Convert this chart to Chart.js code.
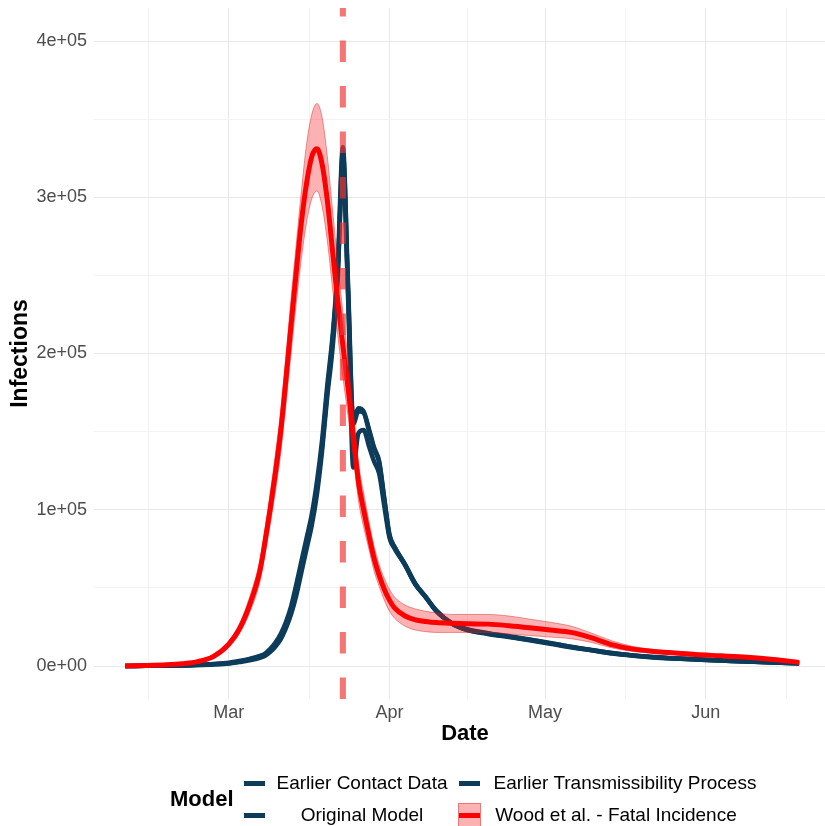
<!DOCTYPE html>
<html>
<head>
<meta charset="utf-8">
<script src="https://cdn.jsdelivr.net/npm/chart.js@4.4.1/dist/chart.umd.min.js"></script>
<style>
  html, body { margin: 0; padding: 0; background: #fff; overflow: hidden; }
  #wrap { position: relative; width: 825px; height: 826px; overflow: hidden;
          font-family: 'Liberation Sans', Arial, sans-serif; color: #000; }
  #chart { position: absolute; left: 0; top: 0; }
  .lg-title { position: absolute; left: 170px; top: 786px; font-weight: bold; font-size: 22px; }
  .lg-key { position: absolute; width: 23px; height: 24px; }
  .lg-key span { position: absolute; left: 1px; right: 1px; top: 10px; height: 5px; }
  .lg-text { position: absolute; font-size: 19px; text-align: center; white-space: nowrap; line-height: 24px; }
</style>
</head>
<body>
<div id="wrap">
  <!-- the ggplot panel runs a little past the right edge of the picture, so the canvas is wider and clipped -->
  <canvas id="chart" width="836" height="826"></canvas>
  <div id="legend"></div>
</div>
<script>
// Day 0 = 1 March 2020. Infection values are in thousands.
const DAYS = [-20,-16,-12,-9,-6,-3, 0,2,4,6, 7,8,9,10,11,12,13,14,15,16,17,18,19,20,21,22,
  23,24,25,26,27,28,29,30,31,32, 34,36,38,40, 43,46,50,54,58,62,66,70,74,78,82,86,90, 95,100,105,110];

const EARLIER_CONTACT = [0,0.1,0.2,0.35,0.7,1.1, 1.8,2.8,4.2,6, 7.5,10,13.5,18.5,26,36,49,64,79,94,114,141,176,208,252,318,
  240,155,163,162,151,139,130,106,83,76, 64.5,52.5,44,35.5, 27.2,23.2,20.8,18.8,16.8,14.5,12.2,10.1,8.1,6.7,5.6,4.8,4.2, 3.5,2.8,2.2,1.7];
const EARLIER_TRANSMISSIBILITY = [0,0.1,0.2,0.3,0.6,1.0, 1.6,2.5,3.6,5.2, 6.5,9,12.5,17,24,33,45,60,75,90,110,138,173,203,248,328,
  244,158,165,163,152,140,131,107,84,76, 65,52.5,44,35.5, 27.3,23,20.5,18.5,16.5,14.3,12,10,8,6.6,5.5,4.8,4.2, 3.5,2.8,2.2,1.6];
const ORIGINAL_MODEL = [0,0.1,0.2,0.4,0.8,1.3, 2.1,3.2,4.6,6.5, 8,11,15,20.5,28,38,52,67,82,97,118,145,180,211,256,332,
  236,127,149,151,141,131,123,102,82,75, 64.5,52,44,35, 27.4,23.5,21,19,17,14.8,12.4,10.3,8.3,6.8,5.7,4.9,4.3, 3.6,2.9,2.3,1.7];
const WOOD = [0,0.3,0.8,1.5,2.8,6, 14,23.5,39,61, 80,101,124,150,183,218,252,284,309,326,331,321,298,266,234,205,
  178,148,118,100,84,69,58,49,42,37, 32,29.5,28.5,27.8, 27.3,27,26.8,25.8,24.5,23,21.5,18,13.5,10.8,9.3,8.3,7.3, 6.5,5.6,4.2,2.3];
const WOOD_UPPER = [0,0.4,1,1.8,3.5,7.5, 16,26.5,44,68, 88,111,136,163,198,235,270,304,334,353,360,351,326,292,258,226,
  196,163,130,111,93,77,65,56,49,44, 39,36.5,35,34, 33,33,33,32,30,28,25.5,21,16,12.5,10.5,9.3,8.2, 7.2,6.2,4.6,2.6];
const WOOD_LOWER = [0,0.2,0.6,1.2,2.2,4.8, 12,20.5,34,54, 72,91,112,136,167,200,232,261,284,299,304,294,272,242,212,185,
  160,134,106,89,75,61,51,42,35,30.5, 25.5,23,22,21.5, 21.5,21.5,21.5,20.5,19.5,18.5,17.5,15,11.5,9.3,8.2,7.4,6.5, 5.9,5.0,3.8,2.0];

const LOCKDOWN_DAY = 22; // 23 March

const MONTH_DAYS = [0, 31, 61, 92];
const MONTH_LABELS = ['Mar', 'Apr', 'May', 'Jun'];
const Y_TICKS = [0, 100000, 200000, 300000, 400000];
const Y_LABELS = ['0e+00', '1e+05', '2e+05', '3e+05', '4e+05'];

const SERIES_NAMES = ['Earlier Contact Data', 'Earlier Transmissibility Process', 'Original Model', 'Wood et al. - Fatal Incidence'];

const BLUE = '#0c3c5a';
const RED = '#ff0000';

const pts = (arr) => arr.map((v, i) => ({ x: DAYS[i], y: v * 1000 }));

const Y_MIN = -21120, Y_MAX = 421120;

const blueLine = (label, arr) => ({
  label, data: pts(arr), borderColor: BLUE, borderWidth: 4.5, order: 5, fill: false,
});

const datasets = [
  blueLine(SERIES_NAMES[0], EARLIER_CONTACT),
  blueLine(SERIES_NAMES[1], EARLIER_TRANSMISSIBILITY),
  blueLine(SERIES_NAMES[2], ORIGINAL_MODEL),
  { label: 'upper', data: pts(WOOD_UPPER), borderColor: 'rgba(210,30,30,0.45)', borderWidth: 1,
    backgroundColor: 'rgba(245,20,20,0.33)', fill: '+1', order: 3 },
  { label: 'lower', data: pts(WOOD_LOWER), borderColor: 'rgba(210,30,30,0.45)', borderWidth: 1,
    fill: false, order: 3 },
  { label: SERIES_NAMES[3], data: pts(WOOD), borderColor: RED, borderWidth: 5, fill: false, order: 2 },
  { label: 'lockdown', data: [{ x: LOCKDOWN_DAY, y: Y_MIN }, { x: LOCKDOWN_DAY, y: Y_MAX }],
    borderColor: 'rgba(240,50,50,0.68)', borderWidth: 6, borderDash: [21.5, 24],
    cubicInterpolationMode: 'default', tension: 0, fill: false, order: 1 },
];

const xMajor = new Set(MONTH_DAYS);
const xTicks = [-15.5, 0, 15.5, 31, 46, 61, 76.5, 92, 107.5];
const yMajor = new Set(Y_TICKS);
const yTicks = [0, 50000, 100000, 150000, 200000, 250000, 300000, 350000, 400000];

const tickFont = { family: "'Liberation Sans', Arial, sans-serif", size: 18 };
const titleFont = { family: "'Liberation Sans', Arial, sans-serif", size: 22, weight: 'bold' };

new Chart(document.getElementById('chart'), {
  type: 'line',
  data: { datasets },
  options: {
    responsive: false,
    animation: false,
    devicePixelRatio: 1,
    layout: { padding: { top: 8, right: 0, bottom: 79, left: 0 } },
    plugins: { legend: { display: false }, tooltip: { enabled: false } },
    elements: {
      point: { radius: 0 },
      line: { cubicInterpolationMode: 'monotone', borderCapStyle: 'butt', borderJoinStyle: 'round' }
    },
    scales: {
      x: {
        type: 'linear', min: -26, max: 117.1,
        afterBuildTicks: (s) => { s.ticks = xTicks.map(v => ({ value: v })); },
        afterFit: (s) => { s.height = 48; s.paddingLeft = 0; s.paddingRight = 0; },
        grid: {
          drawTicks: false,
          color: (c) => (c.tick && xMajor.has(c.tick.value)) ? '#e8e8e8' : '#f3f3f3',
          lineWidth: 1,
        },
        border: { display: false },
        ticks: {
          autoSkip: false, maxRotation: 0, padding: 3, color: '#4d4d4d', font: tickFont,
          callback: (v) => { const i = MONTH_DAYS.indexOf(v); return i >= 0 ? MONTH_LABELS[i] : ''; }
        },
        title: { display: true, text: 'Date', color: '#000', font: titleFont, padding: { top: 0, bottom: 0 } }
      },
      y: {
        min: Y_MIN, max: Y_MAX,
        afterBuildTicks: (s) => { s.ticks = yTicks.map(v => ({ value: v })); },
        afterFit: (s) => { s.width = 94; s.paddingTop = 0; s.paddingBottom = 0; },
        grid: {
          drawTicks: false,
          color: (c) => (c.tick && yMajor.has(c.tick.value)) ? '#e8e8e8' : '#f3f3f3',
          lineWidth: 1,
        },
        border: { display: false },
        ticks: {
          autoSkip: false, padding: 7, color: '#4d4d4d', font: tickFont,
          callback: (v) => { const i = Y_TICKS.indexOf(v); return i >= 0 ? Y_LABELS[i] : ''; }
        },
        title: { display: true, text: 'Infections', color: '#000', font: { ...titleFont, size: 23 }, padding: { top: 7, bottom: 0 } }
      }
    }
  }
});

// legend drawn as HTML, laid out as in the ggplot guide (2 x 2)
const legend = document.getElementById('legend');
const lgItems = [
  { name: SERIES_NAMES[0], keyX: 243, textX: 270, textW: 184, y: 771, fill: null, line: BLUE },
  { name: SERIES_NAMES[1], keyX: 458, textX: 484, textW: 282, y: 771, fill: null, line: BLUE },
  { name: SERIES_NAMES[2], keyX: 243, textX: 270, textW: 184, y: 803, fill: null, line: BLUE },
  { name: SERIES_NAMES[3], keyX: 458, textX: 475, textW: 282, y: 803, fill: 'rgba(245,20,20,0.33)', line: RED },
];
const t = document.createElement('div');
t.className = 'lg-title'; t.textContent = 'Model';
legend.appendChild(t);
lgItems.forEach(it => {
  const k = document.createElement('div');
  k.className = 'lg-key';
  k.style.left = it.keyX + 'px'; k.style.top = it.y + 'px';
  if (it.fill) { k.style.background = it.fill; k.style.boxShadow = 'inset 0 0 0 1px rgba(210,30,30,0.4)'; }
  const s = document.createElement('span');
  s.style.background = it.line;
  k.appendChild(s);
  legend.appendChild(k);
  const tx = document.createElement('div');
  tx.className = 'lg-text';
  tx.style.left = it.textX + 'px'; tx.style.top = it.y + 'px'; tx.style.width = it.textW + 'px';
  tx.textContent = it.name;
  legend.appendChild(tx);
});
</script>
</body>
</html>
